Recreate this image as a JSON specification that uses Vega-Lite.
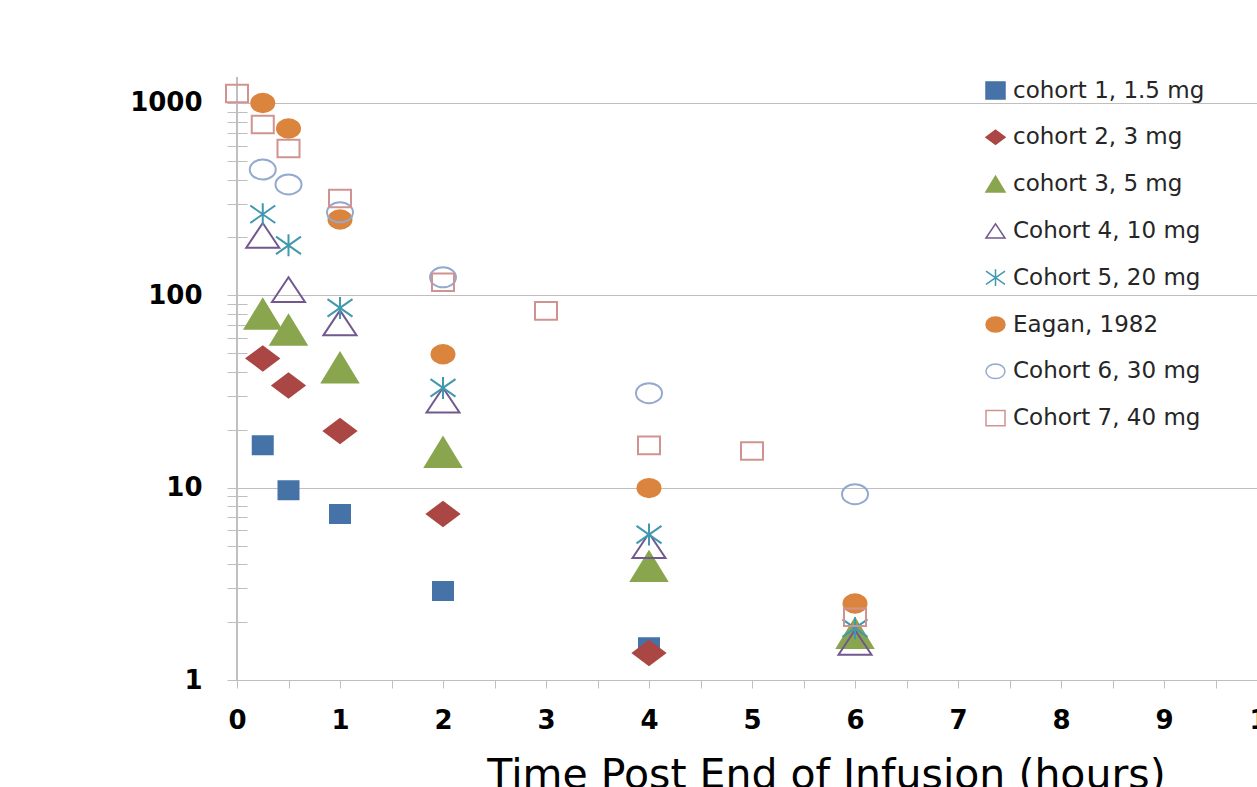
{
  "$schema": "https://vega.github.io/schema/vega-lite/v6.json",
  "width": 1030,
  "height": 603,
  "autosize": {"type": "none"},
  "padding": {"left": 237, "top": 77, "right": 0, "bottom": 107},
  "background": "white",
  "config": {"view": {"stroke": null}},
  "data": {
    "values": [
      {"s": "cohort 1, 1.5 mg", "t": 0.25, "c": 16.6},
      {"s": "cohort 1, 1.5 mg", "t": 0.5, "c": 9.7},
      {"s": "cohort 1, 1.5 mg", "t": 1, "c": 7.3},
      {"s": "cohort 1, 1.5 mg", "t": 2, "c": 2.9},
      {"s": "cohort 1, 1.5 mg", "t": 4, "c": 1.48},
      {"s": "cohort 2, 3 mg", "t": 0.25, "c": 47},
      {"s": "cohort 2, 3 mg", "t": 0.5, "c": 34},
      {"s": "cohort 2, 3 mg", "t": 1, "c": 19.7},
      {"s": "cohort 2, 3 mg", "t": 2, "c": 7.3},
      {"s": "cohort 2, 3 mg", "t": 4, "c": 1.38},
      {"s": "cohort 3, 5 mg", "t": 0.25, "c": 80},
      {"s": "cohort 3, 5 mg", "t": 0.5, "c": 66},
      {"s": "cohort 3, 5 mg", "t": 1, "c": 42},
      {"s": "cohort 3, 5 mg", "t": 2, "c": 15.3},
      {"s": "cohort 3, 5 mg", "t": 4, "c": 3.9},
      {"s": "cohort 3, 5 mg", "t": 6, "c": 1.75},
      {"s": "Cohort 4, 10 mg", "t": 0.25, "c": 205},
      {"s": "Cohort 4, 10 mg", "t": 0.5, "c": 107},
      {"s": "Cohort 4, 10 mg", "t": 1, "c": 72},
      {"s": "Cohort 4, 10 mg", "t": 2, "c": 28.5},
      {"s": "Cohort 4, 10 mg", "t": 4, "c": 5.0},
      {"s": "Cohort 4, 10 mg", "t": 6, "c": 1.57},
      {"s": "Cohort 5, 20 mg", "t": 0.25, "c": 264},
      {"s": "Cohort 5, 20 mg", "t": 0.5, "c": 182},
      {"s": "Cohort 5, 20 mg", "t": 1, "c": 86},
      {"s": "Cohort 5, 20 mg", "t": 2, "c": 33},
      {"s": "Cohort 5, 20 mg", "t": 4, "c": 5.7},
      {"s": "Cohort 5, 20 mg", "t": 6, "c": 1.86},
      {"s": "Eagan, 1982", "t": 0.25, "c": 1000},
      {"s": "Eagan, 1982", "t": 0.5, "c": 737},
      {"s": "Eagan, 1982", "t": 1, "c": 248},
      {"s": "Eagan, 1982", "t": 2, "c": 49.4},
      {"s": "Eagan, 1982", "t": 4, "c": 9.95},
      {"s": "Eagan, 1982", "t": 6, "c": 2.5},
      {"s": "Cohort 6, 30 mg", "t": 0.25, "c": 451},
      {"s": "Cohort 6, 30 mg", "t": 0.5, "c": 377},
      {"s": "Cohort 6, 30 mg", "t": 1, "c": 270},
      {"s": "Cohort 6, 30 mg", "t": 2, "c": 124},
      {"s": "Cohort 6, 30 mg", "t": 4, "c": 31},
      {"s": "Cohort 6, 30 mg", "t": 6, "c": 9.25},
      {"s": "Cohort 7, 40 mg", "t": 0, "c": 1120},
      {"s": "Cohort 7, 40 mg", "t": 0.25, "c": 773},
      {"s": "Cohort 7, 40 mg", "t": 0.5, "c": 580},
      {"s": "Cohort 7, 40 mg", "t": 1, "c": 319},
      {"s": "Cohort 7, 40 mg", "t": 2, "c": 117},
      {"s": "Cohort 7, 40 mg", "t": 3, "c": 83},
      {"s": "Cohort 7, 40 mg", "t": 4, "c": 16.6},
      {"s": "Cohort 7, 40 mg", "t": 5, "c": 15.5},
      {"s": "Cohort 7, 40 mg", "t": 6, "c": 2.12}
    ]
  },
  "layer": [
    {
      "mark": {"type": "rule", "color": "#bfbfbf", "strokeWidth": 1},
      "encoding": {"x": {"datum": 0, "type": "quantitative"}}
    },
    {
      "encoding": {
        "x": {
          "field": "t",
          "type": "quantitative",
          "scale": {"domain": [0, 10], "nice": false, "zero": false},
          "axis": {
            "values": [0, 0.5, 1, 1.5, 2, 2.5, 3, 3.5, 4, 4.5, 5, 5.5, 6, 6.5, 7, 7.5, 8, 8.5, 9, 9.5, 10],
            "labelExpr": "datum.value % 1 == 0 ? format(datum.value, 'd') : ''",
            "grid": false,
            "tickSize": 8,
            "tickColor": "#bfbfbf",
            "domainColor": "#bfbfbf",
            "labelFont": "DejaVu Sans",
            "labelFontWeight": "bold",
            "labelFontSize": 26,
            "labelColor": "black",
            "labelPadding": 19,
            "labelFlush": false,
            "labelOverlap": false,
            "title": "Time Post End of Infusion (hours)",
            "titleFont": "DejaVu Sans",
            "titleFontSize": 41,
            "titleFontWeight": "normal",
            "titleColor": "black",
            "titleX": 589,
            "titleY": 107,
            "titleAlign": "center",
            "titleBaseline": "alphabetic"
          }
        },
        "y": {
          "field": "c",
          "type": "quantitative",
          "scale": {"type": "log", "domain": [1, 1365], "nice": false},
          "axis": {
            "values": [1, 2, 3, 4, 5, 6, 7, 8, 9, 10, 20, 30, 40, 50, 60, 70, 80, 90, 100, 200, 300, 400, 500, 600, 700, 800, 900, 1000],
            "labelExpr": "datum.value == 1 ? '1' : datum.value == 10 ? '10' : datum.value == 100 ? '100' : datum.value == 1000 ? '1000' : ''",
            "offset": -10,
            "domain": false,
            "tickSize": 20,
            "tickColor": "#bfbfbf",
            "grid": true,
            "gridColor": "#bfbfbf",
            "gridOpacity": {"condition": {"test": "datum.value == 10 || datum.value == 100 || datum.value == 1000", "value": 1}, "value": 0},
            "labelFont": "DejaVu Sans",
            "labelFontWeight": "bold",
            "labelFontSize": 26,
            "labelColor": "black",
            "labelPadding": 25,
            "labelFlush": false,
            "labelOverlap": false,
            "title": null
          }
        },
        "shape": {
          "field": "s",
          "type": "nominal",
          "scale": {
            "domain": ["cohort 1, 1.5 mg", "cohort 2, 3 mg", "cohort 3, 5 mg", "Cohort 4, 10 mg", "Cohort 5, 20 mg", "Eagan, 1982", "Cohort 6, 30 mg", "Cohort 7, 40 mg"],
            "range": [
              "M-1,-0.9H1V0.9H-1Z",
              "M-1,0L0,-0.75L1,0L0,0.75Z",
              "M-1,0.82L0,-0.82L1,0.82Z",
              "M-1,0.75L0,-0.75L1,0.75Z",
              "M0,-0.88V0.88M-1,-0.7L1,0.7M-1,0.7L1,-0.7",
              "M-1,0A1,0.8 0 1,1 1,0A1,0.8 0 1,1 -1,0Z",
              "M-1,0A1,0.77 0 1,1 1,0A1,0.77 0 1,1 -1,0Z",
              "M-1,-0.8H1V0.8H-1Z"
            ]
          },
          "legend": {
            "orient": "none", "legendX": 747, "legendY": 2, "title": null,
            "symbolSize": 361, "symbolStrokeWidth": 1.5,
            "labelFont": "DejaVu Sans", "labelFontSize": 23, "labelColor": "#262626",
            "labelLimit": 0,
            "rowPadding": 22.8, "labelOffset": 6
          }
        },
        "fill": {
          "field": "s",
          "type": "nominal",
          "scale": {
            "domain": ["cohort 1, 1.5 mg", "cohort 2, 3 mg", "cohort 3, 5 mg", "Cohort 4, 10 mg", "Cohort 5, 20 mg", "Eagan, 1982", "Cohort 6, 30 mg", "Cohort 7, 40 mg"],
            "range": ["#4572A7", "#AA4643", "#89A54E", "transparent", "transparent", "#DB843D", "transparent", "transparent"]
          }
        },
        "stroke": {
          "field": "s",
          "type": "nominal",
          "scale": {
            "domain": ["cohort 1, 1.5 mg", "cohort 2, 3 mg", "cohort 3, 5 mg", "Cohort 4, 10 mg", "Cohort 5, 20 mg", "Eagan, 1982", "Cohort 6, 30 mg", "Cohort 7, 40 mg"],
            "range": ["#4572A7", "#AA4643", "#89A54E", "#71588F", "#4198AF", "#DB843D", "#93A9CF", "#D19392"]
          }
        }
      },
      "layer": [
        {"transform": [{"filter": "datum.s == 'cohort 1, 1.5 mg'"}], "mark": {"type": "point", "filled": true, "opacity": 1, "strokeWidth": 2, "size": 400}},
        {"transform": [{"filter": "datum.s == 'cohort 2, 3 mg'"}], "mark": {"type": "point", "filled": true, "opacity": 1, "strokeWidth": 2, "size": 1024}},
        {"transform": [{"filter": "datum.s == 'cohort 3, 5 mg'"}], "mark": {"type": "point", "filled": true, "opacity": 1, "strokeWidth": 2, "size": 1296}},
        {"transform": [{"filter": "datum.s == 'Cohort 4, 10 mg'"}], "mark": {"type": "point", "filled": true, "opacity": 1, "strokeWidth": 2, "size": 1089}},
        {"transform": [{"filter": "datum.s == 'Cohort 5, 20 mg'"}], "mark": {"type": "point", "filled": true, "opacity": 1, "strokeWidth": 2, "size": 625}},
        {"transform": [{"filter": "datum.s == 'Eagan, 1982'"}], "mark": {"type": "point", "filled": true, "opacity": 1, "strokeWidth": 2, "size": 529}},
        {"transform": [{"filter": "datum.s == 'Cohort 6, 30 mg'"}], "mark": {"type": "point", "filled": true, "opacity": 1, "strokeWidth": 2, "size": 676}},
        {"transform": [{"filter": "datum.s == 'Cohort 7, 40 mg'"}], "mark": {"type": "point", "filled": true, "opacity": 1, "strokeWidth": 2, "size": 484}}
      ]
    }
  ]
}
